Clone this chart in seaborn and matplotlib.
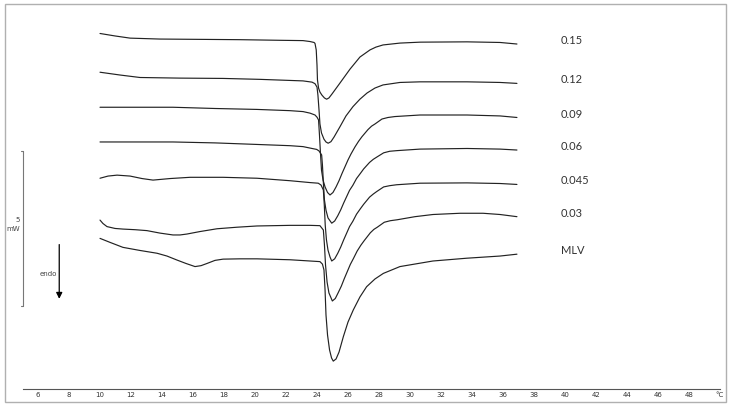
import numpy as np
import pandas as pd
import matplotlib
matplotlib.use("Agg")
import matplotlib.pyplot as plt
from matplotlib.patches import Rectangle
from matplotlib.ticker import MultipleLocator
import seaborn as sns

sns.set_style("white")
plt.rcParams['font.family'] = ['DejaVu Sans']

# DSC thermograms, heat flow in mW (curves shifted vertically as in the figure)
samples = ['0.15', '0.12', '0.09', '0.06', '0.045', '0.03', 'MLV']

temp_015 = [10.00, 10.97, 11.94, 13.87, 16.45, 19.03, 21.61, 23.10, 23.55, 23.81, 23.87, 23.95, 24.00, 24.03,
            24.10, 24.19, 24.32, 24.48, 24.62, 24.77, 24.97, 25.48, 26.13, 26.77, 27.42, 27.80, 28.26, 29.35,
            30.65, 33.68, 35.81, 36.90]
hf_015 = [11.47, 11.39, 11.32, 11.29, 11.28, 11.27, 11.25, 11.24, 11.21, 11.18, 11.15, 10.94, 10.45, 9.97,
          9.71, 9.58, 9.48, 9.39, 9.35, 9.39, 9.52, 9.87, 10.32, 10.71, 10.94, 11.03, 11.10, 11.16,
          11.19, 11.20, 11.18, 11.13]

temp_012 = [10.00, 11.29, 12.58, 15.16, 17.94, 20.32, 23.10, 23.68, 23.87, 24.00, 24.06, 24.13, 24.19, 24.29,
            24.45, 24.58, 24.72, 24.90, 25.10, 25.48, 25.87, 26.32, 26.77, 27.23, 27.74, 28.26, 29.35, 30.65,
            33.68, 35.81, 36.90]
hf_012 = [10.22, 10.13, 10.05, 10.03, 10.02, 9.99, 9.94, 9.90, 9.85, 9.74, 9.48, 9.00, 8.55, 8.26,
          8.06, 7.97, 7.93, 7.98, 8.13, 8.46, 8.81, 9.11, 9.35, 9.55, 9.71, 9.81, 9.89, 9.91,
          9.91, 9.89, 9.86]

temp_009 = [10.00, 12.58, 14.71, 17.42, 20.13, 22.26, 23.10, 23.55, 23.87, 24.00, 24.10, 24.16, 24.23, 24.29,
            24.39, 24.52, 24.68, 24.84, 25.03, 25.23, 25.42, 25.61, 26.00, 26.19, 26.45, 26.68, 26.90, 27.29,
            27.52, 27.74, 28.19, 28.58, 29.03, 30.65, 33.68, 35.81, 36.90]
hf_009 = [9.09, 9.09, 9.09, 9.05, 9.02, 8.98, 8.95, 8.90, 8.84, 8.77, 8.68, 8.19, 7.55, 7.06,
          6.74, 6.52, 6.34, 6.26, 6.34, 6.52, 6.72, 6.95, 7.39, 7.58, 7.81, 7.99, 8.14, 8.37,
          8.48, 8.55, 8.71, 8.76, 8.79, 8.84, 8.84, 8.81, 8.76]

temp_006 = [10.00, 12.58, 14.71, 17.42, 20.13, 22.26, 23.10, 23.68, 23.98, 24.13, 24.30, 24.35, 24.42, 24.48,
            24.58, 24.71, 24.95, 25.14, 25.34, 25.53, 25.72, 26.10, 26.31, 26.55, 26.79, 27.01, 27.39, 27.63,
            27.85, 28.30, 28.69, 29.14, 30.65, 33.68, 35.81, 36.90]
hf_006 = [7.97, 7.97, 7.97, 7.94, 7.89, 7.85, 7.82, 7.76, 7.73, 7.68, 7.55, 7.23, 6.58, 6.10,
          5.77, 5.52, 5.35, 5.42, 5.59, 5.78, 6.00, 6.41, 6.57, 6.79, 6.95, 7.10, 7.31, 7.41,
          7.48, 7.62, 7.67, 7.69, 7.74, 7.76, 7.74, 7.71]

temp_0045 = [10.00, 10.52, 11.10, 11.94, 12.71, 13.42, 14.52, 15.81, 17.94, 20.13, 22.26, 23.55, 24.08, 24.26,
             24.41, 24.47, 24.53, 24.61, 24.71, 24.84, 24.95, 25.14, 25.34, 25.53, 25.72, 26.10, 26.31, 26.55,
             26.79, 27.01, 27.39, 27.63, 27.85, 28.30, 28.69, 29.14, 30.65, 33.68, 35.81, 36.90]
hf_0045 = [6.80, 6.87, 6.90, 6.87, 6.79, 6.74, 6.79, 6.83, 6.83, 6.80, 6.72, 6.66, 6.64, 6.58,
           6.42, 5.94, 5.29, 4.81, 4.48, 4.26, 4.13, 4.20, 4.38, 4.58, 4.81, 5.24, 5.41, 5.64,
           5.81, 5.96, 6.19, 6.29, 6.37, 6.52, 6.56, 6.59, 6.64, 6.65, 6.63, 6.60]

temp_003 = [10.00, 10.19, 10.45, 10.97, 11.48, 12.26, 13.03, 13.87, 14.71, 15.16, 15.61, 16.45, 17.55, 18.84,
            20.13, 22.26, 23.55, 24.19, 24.41, 24.48, 24.55, 24.65, 24.77, 24.99, 25.18, 25.37, 25.57, 25.76,
            26.15, 26.35, 26.59, 26.83, 27.05, 27.44, 27.67, 27.89, 28.34, 28.73, 29.17, 30.32, 31.48, 33.23,
            34.71, 35.81, 36.90]
hf_003 = [5.45, 5.34, 5.24, 5.18, 5.16, 5.14, 5.11, 5.03, 4.97, 4.97, 5.00, 5.08, 5.17, 5.22,
          5.26, 5.28, 5.28, 5.27, 5.13, 4.65, 4.00, 3.45, 3.10, 2.84, 2.92, 3.11, 3.32, 3.56,
          4.02, 4.21, 4.45, 4.64, 4.79, 5.04, 5.15, 5.22, 5.38, 5.43, 5.46, 5.56, 5.63, 5.67,
          5.67, 5.63, 5.56]

temp_mlv = [10.00, 10.65, 11.48, 12.58, 13.68, 14.32, 14.97, 15.55, 16.13, 16.52, 16.90, 17.42, 17.94, 19.03,
            20.13, 22.26, 23.55, 24.19, 24.35, 24.45, 24.52, 24.58, 24.68, 24.81, 24.94, 25.05, 25.23, 25.42,
            25.70, 26.00, 26.34, 26.77, 27.20, 27.74, 28.28, 29.35, 31.48, 33.66, 35.81, 36.90]
hf_mlv = [4.86, 4.73, 4.57, 4.47, 4.38, 4.29, 4.16, 4.05, 3.95, 3.98, 4.05, 4.15, 4.19, 4.20,
          4.20, 4.17, 4.13, 4.11, 4.03, 3.84, 3.19, 2.39, 1.74, 1.26, 1.00, 0.90, 0.97, 1.19,
          1.69, 2.16, 2.55, 2.97, 3.30, 3.55, 3.73, 3.95, 4.13, 4.22, 4.29, 4.35]

temps = [temp_015, temp_012, temp_009, temp_006, temp_0045, temp_003, temp_mlv]
flows = [hf_015, hf_012, hf_009, hf_006, hf_0045, hf_003, hf_mlv]

tick_values = list(range(6, 49, 2)) + [50]
tick_labels = [str(v) for v in range(6, 49, 2)] + ['°C']

frames = []
for name, t, h in zip(samples, temps, flows):
    frames.append(pd.DataFrame({'sample': name, 'temp': t, 'mw': h}))
df = pd.concat(frames, ignore_index=True)

fig = plt.figure(figsize=(7.31, 4.07), dpi=100)
ax = fig.add_axes([0, 0, 1, 1])

sns.lineplot(data=df, x='temp', y='mw', units='sample', estimator=None, sort=False,
             color='#222222', linewidth=0.85, legend=False, ax=ax)

ax.set_xlim(3.548, 50.71)
ax.set_ylim(-0.58, 12.55)

# sample labels at the right end of each trace
for name, t, h in zip(samples, temps, flows):
    ax.annotate(name, xy=(t[-1], h[-1]), xytext=(31.5, 2.5), textcoords='offset points',
                ha='left', va='center', fontsize=8, color='#333333', family=['Lato', 'DejaVu Sans'])

# temperature axis
for side in ['top', 'left', 'right']:
    ax.spines[side].set_visible(False)
ax.spines['bottom'].set_position(('data', 0))
ax.spines['bottom'].set_bounds(5, 50)
ax.spines['bottom'].set_color('#555555')
ax.spines['bottom'].set_linewidth(0.8)
ax.set_xticks(tick_values)
ax.set_xticklabels(tick_labels)
ax.xaxis.set_minor_locator(MultipleLocator(1))
ax.tick_params(axis='x', which='major', direction='in', length=2.5, width=0.8,
               color='#333333', labelsize=5, labelcolor='#333333', pad=2)
ax.tick_params(axis='x', which='minor', direction='in', length=1.5, width=0.6, color='#444444')
ax.set_yticks([])
ax.set_xlabel('')
ax.set_ylabel('')

# 5 mW scale bar
bar_x, bar_bottom, bar_len = 5.05, 2.69, 5.0
ax.plot([bar_x, bar_x], [bar_bottom, bar_bottom + bar_len], color='#777777', lw=0.8)
for yy in [bar_bottom, bar_bottom + bar_len]:
    ax.plot([bar_x - 0.17, bar_x], [yy, yy], color='#777777', lw=0.8)
ax.text(4.81, 5.45, '5', ha='right', va='center', fontsize=5, color='#444444')
ax.text(4.81, 5.15, 'mW', ha='right', va='center', fontsize=5, color='#444444')

# endo arrow
ax.annotate('', xy=(7.37, 2.82), xytext=(7.37, 4.75),
            arrowprops=dict(arrowstyle='-|>', color='black', lw=0.9, mutation_scale=9))
ax.text(7.23, 3.71, 'endo', ha='right', va='center', fontsize=5, color='#444444')

# outer frame
fig.patches.append(Rectangle((4.5 / 731, 5.3 / 407), 721 / 731, 397.4 / 407,
                             transform=fig.transFigure, fill=False, edgecolor='#b0b0b0', lw=1.0))

fig.savefig('out.png', dpi=100)
